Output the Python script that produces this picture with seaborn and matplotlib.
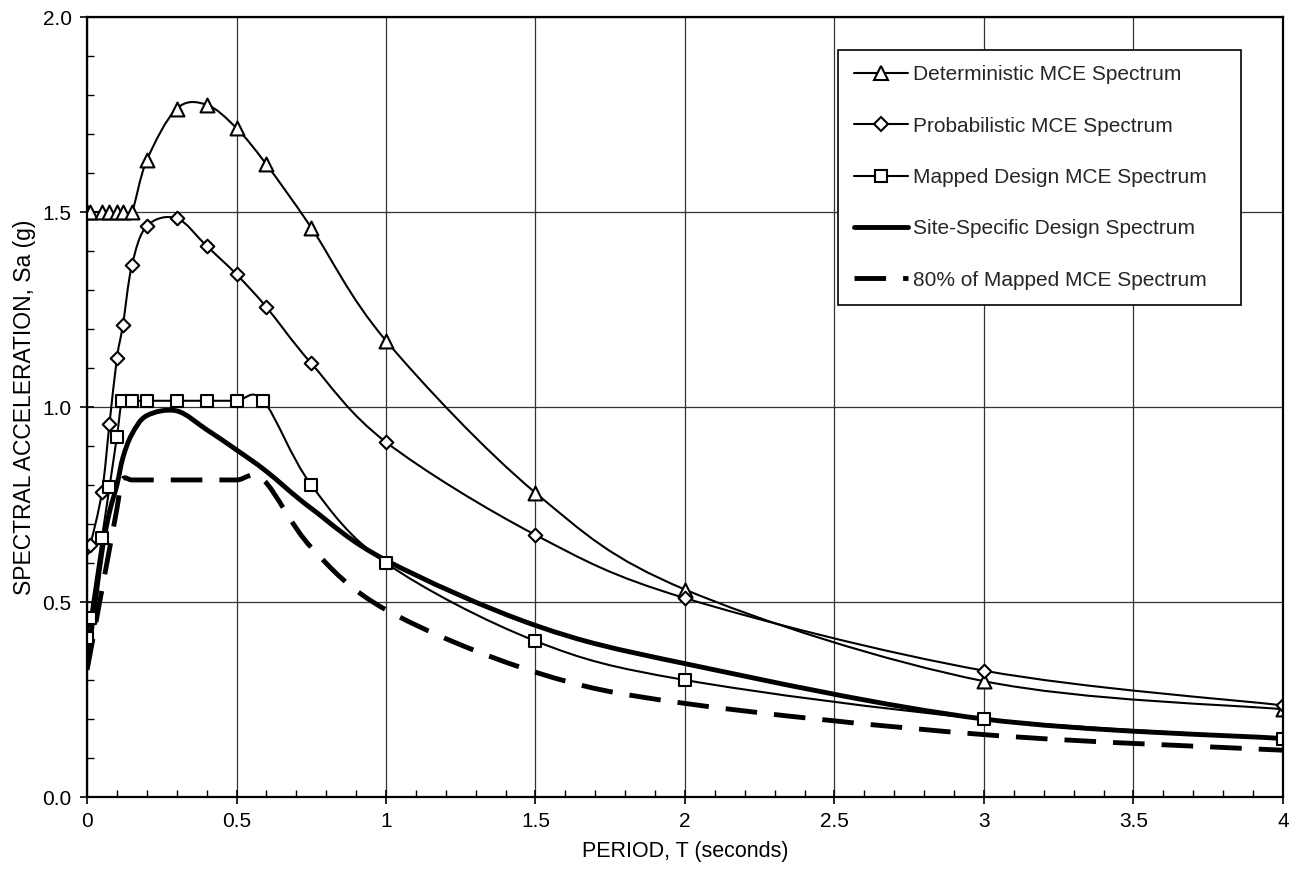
import matplotlib
matplotlib.use("Agg")

import numpy as np
import seaborn as sns
from matplotlib import pyplot as plt
from matplotlib.lines import Line2D
from matplotlib.patches import PathPatch
from matplotlib.path import Path
from matplotlib.ticker import FormatStrFormatter, FuncFormatter, MultipleLocator

# Periods T (s) and spectral accelerations Sa (g)
T_DET = [0, 0.01, 0.05, 0.075, 0.1, 0.12, 0.15, 0.2, 0.3, 0.4, 0.5, 0.6, 0.75, 1.0, 1.5, 2.0, 3.0, 4.0]
SA_DET = [1.5, 1.5, 1.5, 1.5, 1.5, 1.5, 1.5, 1.633, 1.765, 1.775, 1.715, 1.622, 1.46, 1.17, 0.78, 0.532, 0.297, 0.225]

T_PROB = [0, 0.01, 0.05, 0.075, 0.1, 0.12, 0.15, 0.2, 0.3, 0.4, 0.5, 0.6, 0.75, 1.0, 1.5, 2.0, 3.0, 4.0]
SA_PROB = [0.64, 0.645, 0.782, 0.956, 1.125, 1.21, 1.363, 1.464, 1.484, 1.413, 1.34, 1.256, 1.112, 0.91, 0.672, 0.51, 0.324, 0.235]

T_MAP = [0, 0.01, 0.05, 0.075, 0.1, 0.118, 0.15, 0.2, 0.3, 0.4, 0.5, 0.59, 0.75, 1.0, 1.5, 2.0, 3.0, 4.0]
SA_MAP = [0.407, 0.458, 0.665, 0.794, 0.924, 1.016, 1.016, 1.016, 1.016, 1.016, 1.016, 1.016, 0.8, 0.6, 0.4, 0.3, 0.2, 0.15]

T_SITE = [0, 0.01, 0.05, 0.075, 0.1, 0.12, 0.15, 0.2, 0.3, 0.4, 0.5, 0.6, 0.75, 1.0, 1.5, 2.0, 3.0, 4.0]
SA_SITE = [0.36, 0.40, 0.63, 0.73, 0.80, 0.87, 0.93, 0.978, 0.99, 0.942, 0.89, 0.835, 0.74, 0.607, 0.44, 0.342, 0.2, 0.15]

T_80 = [0, 0.01, 0.05, 0.075, 0.1, 0.118, 0.15, 0.2, 0.3, 0.4, 0.5, 0.59, 0.75, 1.0, 1.5, 2.0, 3.0, 4.0]
SA_80 = [0.326, 0.366, 0.532, 0.635, 0.739, 0.813, 0.813, 0.813, 0.813, 0.813, 0.813, 0.813, 0.64, 0.48, 0.32, 0.24, 0.16, 0.12]

LABELS = [
    "Deterministic MCE Spectrum",
    "Probabilistic MCE Spectrum",
    "Mapped Design MCE Spectrum",
    "Site-Specific Design Spectrum",
    "80% of Mapped MCE Spectrum",
]


def smooth_path(x, y):
    """Bezier path through the points, like the smoothed lines of a spreadsheet chart."""
    pts = np.column_stack([x, y]).astype(float)
    n = len(pts)
    verts = [pts[0]]
    codes = [Path.MOVETO]
    for i in range(n - 1):
        before = pts[max(i - 1, 0)]
        after = pts[min(i + 2, n - 1)]
        verts += [pts[i] + (pts[i + 1] - before) / 6, pts[i + 1] - (after - pts[i]) / 6, pts[i + 1]]
        codes += [Path.CURVE4] * 3
    return Path(verts, codes)


sns.set_theme(style="ticks")
plt.rcParams["font.family"] = ["Liberation Sans", "DejaVu Sans"]

fig = plt.figure(figsize=(12.95, 8.77), dpi=100)
ax = fig.add_axes([0.0672, 0.0912, 0.9235, 0.8894])

thin = dict(fill=False, edgecolor="black", linewidth=1.5, zorder=3)
ax.add_patch(PathPatch(smooth_path(T_DET, SA_DET), **thin))
ax.add_patch(PathPatch(smooth_path(T_PROB, SA_PROB), **thin))
ax.add_patch(PathPatch(smooth_path(T_MAP, SA_MAP), **thin))
ax.add_patch(PathPatch(smooth_path(T_SITE, SA_SITE), fill=False, edgecolor="black",
                       linewidth=3.5, capstyle="butt", zorder=3))
ax.add_patch(PathPatch(smooth_path(T_80, SA_80), fill=False, edgecolor="black",
                       linewidth=3.5, linestyle=(0, (6.5, 3.5)), capstyle="butt", zorder=3))

# hollow markers at the data points
marker_kw = dict(color="white", edgecolor="black", linewidth=1.5, ax=ax, zorder=5, legend=False)
sns.scatterplot(x=T_DET, y=SA_DET, marker="^", s=100, **marker_kw)
sns.scatterplot(x=T_PROB, y=SA_PROB, marker="D", s=48, **marker_kw)
sns.scatterplot(x=T_MAP, y=SA_MAP, marker="s", s=85, **marker_kw)

ax.set_xlim(0, 4)
ax.set_ylim(0, 2)
ax.xaxis.set_major_locator(MultipleLocator(0.5))
ax.xaxis.set_minor_locator(MultipleLocator(0.1))
ax.yaxis.set_major_locator(MultipleLocator(0.5))
ax.yaxis.set_minor_locator(MultipleLocator(0.1))
ax.xaxis.set_major_formatter(FuncFormatter(lambda v, p: f"{v:g}"))
ax.yaxis.set_major_formatter(FormatStrFormatter("%.1f"))
ax.tick_params(which="major", direction="inout", length=10, width=1.2, color="black",
               labelsize=15, labelcolor="black", pad=6)
ax.tick_params(which="minor", direction="in", length=5, width=1.0, color="black")
ax.grid(True, which="major", color="#333333", linewidth=0.9)
ax.set_axisbelow(True)
for spine in ax.spines.values():
    spine.set_color("black")
    spine.set_linewidth(1.6)
    spine.set_zorder(6)

ax.set_xlabel("PERIOD, T (seconds)", fontsize=15.5, color="black", labelpad=7)
ax.set_ylabel("SPECTRAL ACCELERATION, Sa (g)", fontsize=16.5, color="black", labelpad=5)

handles = [
    Line2D([], [], color="black", lw=1.5, marker="^", ms=10, mfc="white", mec="black", mew=1.5),
    Line2D([], [], color="black", lw=1.5, marker="D", ms=6.9, mfc="white", mec="black", mew=1.5),
    Line2D([], [], color="black", lw=1.5, marker="s", ms=9.2, mfc="white", mec="black", mew=1.5),
    Line2D([], [], color="black", lw=3.5),
    Line2D([], [], color="black", lw=3.5, ls=(0, (6.5, 3.5)), solid_capstyle="butt"),
]
leg = ax.legend(handles, LABELS, loc="upper left", bbox_to_anchor=(0.628, 0.958, 0.337, 0.0),
                mode="expand", fontsize=15, frameon=True, fancybox=False, edgecolor="black",
                framealpha=1, borderpad=0.75, labelspacing=1.55, handlelength=2.6,
                handletextpad=0.25, borderaxespad=0)
leg.get_frame().set_linewidth(1.2)

fig.savefig("out.png", dpi=100)
